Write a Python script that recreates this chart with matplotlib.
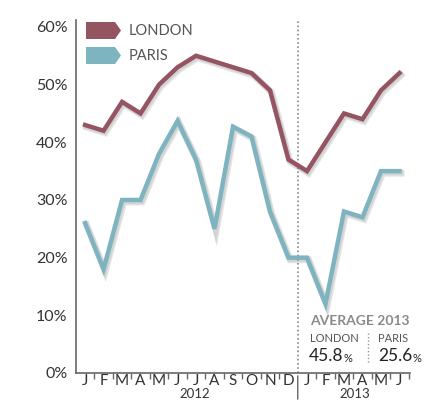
import matplotlib
matplotlib.use("Agg")
import matplotlib.pyplot as plt
import matplotlib.patheffects as pe
from matplotlib.patches import Polygon

months = ["J", "F", "M", "A", "M", "J", "J", "A", "S", "O", "N", "D",
          "J", "F", "M", "A", "M", "J"]
london = [43, 42, 47, 45, 50, 53, 55, 54, 53, 52, 49, 37, 35, 40, 45, 44, 49, 52]
paris = [26, 18, 30, 30, 38, 43.7, 37, 25, 42.7, 41, 28, 20, 20, 12, 28, 27, 35, 35]
yticks = [0, 10, 20, 30, 40, 50, 60]
years = ["2012", "2013"]
avg_london = "45.8"
avg_paris = "25.6"

plt.rcParams['font.family'] = ['Lato', 'DejaVu Sans']

W, H = 424, 401
fig = plt.figure(figsize=(W / 100, H / 100), dpi=100)
ax = fig.add_axes([76 / W, (H - 373) / H, (410 - 76) / W, (373 - 20) / H])

c_lon = "#955462"
c_par = "#7db4c0"
shadow = [pe.SimpleLineShadow(offset=(1.2, -1.5), shadow_color="#000000", alpha=0.10, linewidth=5),
          pe.SimpleLineShadow(offset=(0.8, -1.0), shadow_color="#000000", alpha=0.08, linewidth=4),
          pe.Normal()]

x = list(range(len(months)))
ax.plot(x, london, color=c_lon, lw=3.2, solid_joinstyle="miter", path_effects=shadow, zorder=3)
ax.plot(x, paris, color=c_par, lw=3.2, solid_joinstyle="miter", path_effects=shadow, zorder=3)

ax.set_xlim(-0.49, 17.57)
ax.set_ylim(0, 61.2)

for s in ["top", "right"]:
    ax.spines[s].set_visible(False)
ax.spines["left"].set_color("#666666")
ax.spines["bottom"].set_color("#666666")
ax.spines["left"].set_linewidth(1.2)
ax.spines["bottom"].set_linewidth(1.2)

ax.set_yticks(yticks)
ax.set_yticklabels([f"{v}%" for v in yticks], fontsize=11.5, color="#333333")
ax.tick_params(axis="y", length=0, pad=6)

ax.set_xticks(x)
ax.set_xticklabels(months, fontsize=11, color="#333333")
ax.tick_params(axis="x", length=0, pad=1)
minor = [i + 0.5 for i in range(len(months)) if i != 11]
ax.set_xticks(minor, minor=True)
ax.tick_params(axis="x", which="minor", length=4, width=1, color="#666666", direction="out")

# divider between years
ax.axvline(11.5, color="#888888", lw=1.2, ls=(0, (1, 1.5)), zorder=1)
ax.annotate("", xy=(11.5, 0), xytext=(11.5, -5), xycoords="data",
            arrowprops=dict(arrowstyle="-", color="#666666", lw=1), annotation_clip=False)

# year labels
fig.text(195 / W, 1 - 400.5 / H, years[0], ha="center", va="bottom", fontsize=9.5, color="#333333")
fig.text(355 / W, 1 - 400.5 / H, years[1], ha="center", va="bottom", fontsize=9.5, color="#333333")

# legend flags (figure pixel coords)
def flag(y0, color):
    x0, x1, tip = 86, 115, 121
    h = 17
    pts = [(x0, y0), (x1, y0), (tip, y0 + h / 2), (x1, y0 + h), (x0, y0 + h)]
    pts = [(px / W, 1 - py / H) for px, py in pts]
    fig.patches.append(Polygon(pts, closed=True, transform=fig.transFigure,
                               facecolor=color, edgecolor="none"))

flag(22, c_lon)
flag(47, c_par)
fig.text(129 / W, 1 - 31 / H, "LONDON", fontsize=10.5, color="#555555", va="center")
fig.text(129 / W, 1 - 56 / H, "PARIS", fontsize=10.5, color="#555555", va="center")

# average annotation
fig.text(310 / W, 1 - 321 / H, "AVERAGE 2013", fontsize=10, color="#8a8a8a", va="center",
         fontweight="bold")
fig.text(310 / W, 1 - 339 / H, "LONDON", fontsize=8, color="#555555", va="center")
fig.text(378 / W, 1 - 339 / H, "PARIS", fontsize=8, color="#555555", va="center")
t1 = fig.text(309 / W, 1 - 356 / H, avg_london, fontsize=12.5, color="#222222", va="center")
t2 = fig.text(378 / W, 1 - 356 / H, avg_paris, fontsize=12.5, color="#222222", va="center")
fig.canvas.draw()
r = fig.canvas.get_renderer()
for t in (t1, t2):
    bb = t.get_window_extent(r)
    fig.text(bb.x1 / (W) + 0.5 / W, 1 - 358 / H, "%", fontsize=8, color="#222222", va="center")
fig.add_artist(plt.Line2D([368 / W, 368 / W], [1 - 333 / H, 1 - 363 / H], transform=fig.transFigure,
                          color="#999999", lw=1, ls=(0, (1, 1.5))))

fig.savefig("out.png", dpi=100)
